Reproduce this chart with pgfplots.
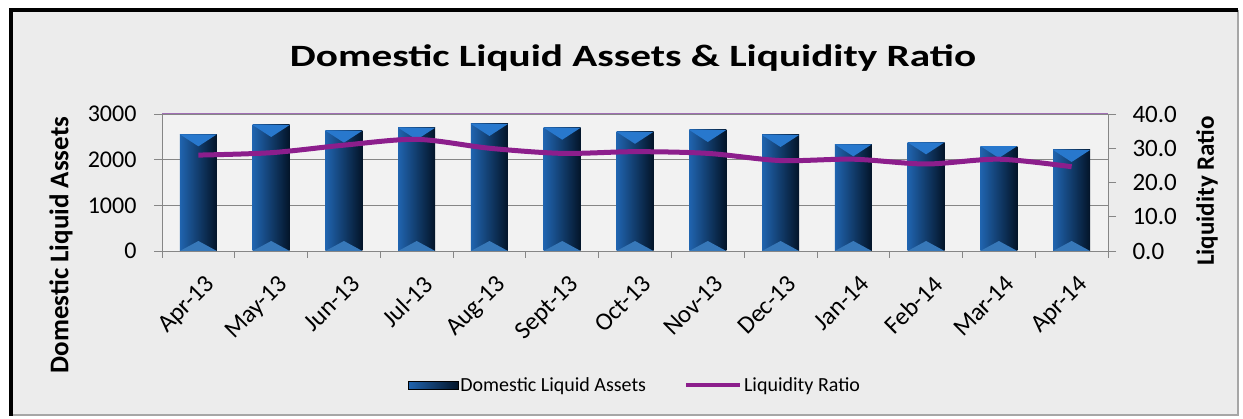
\documentclass[border=0pt]{standalone}
\usepackage{pgfplots}
\pgfplotsset{compat=1.18}
\usepackage{graphicx}
\usepackage{fontspec}
\setmainfont{Carlito}
\definecolor{panel}{RGB}{236,236,236}
\definecolor{plotbg}{RGB}{242,242,242}
\definecolor{gridc}{RGB}{134,134,134}
\definecolor{lineP}{RGB}{140,30,140}
\definecolor{topP}{RGB}{160,110,180}
\definecolor{barL}{RGB}{32,100,175}
\definecolor{barM}{RGB}{26,88,158}
\definecolor{barR}{RGB}{3,20,40}
\definecolor{barTop}{RGB}{40,120,205}
\definecolor{barBot}{RGB}{55,120,185}
\pgfdeclareplotmark{bevtop}{%
  \pgfpathmoveto{\pgfpoint{-18.5pt}{0pt}}%
  \pgfpathlineto{\pgfpoint{18.5pt}{0pt}}%
  \pgfpathlineto{\pgfpoint{0pt}{-12pt}}%
  \pgfpathclose\pgfusepathqfill}
\pgfdeclareplotmark{bevbot}{%
  \pgfpathmoveto{\pgfpoint{-18.5pt}{0pt}}%
  \pgfpathlineto{\pgfpoint{18.5pt}{0pt}}%
  \pgfpathlineto{\pgfpoint{0pt}{10pt}}%
  \pgfpathclose\pgfusepathqfill}
\pgfplotsset{mybar/.style={ybar, bar width=37pt, bar shift=0pt, draw=none, left color=barL, middle color=barM, right color=barR}}
\begin{document}
\begin{tikzpicture}
\path (0pt,0pt) rectangle (1243pt,419pt);
\fill[panel] (10pt,3pt) rectangle (1238pt,409pt);
\draw[gray!70, line width=2pt] (10pt,4pt) -- (1238pt,4pt) -- (1238pt,409pt);
\draw[black, line width=4pt] (11pt,3pt) -- (11pt,409pt) -- (1238pt,409pt);
\node[font=\bfseries\fontsize{31}{36}\selectfont] at (633pt,361pt) {\scalebox{1.33}[1]{Domestic Liquid Assets \& Liquidity Ratio}};
\node[font=\bfseries\fontsize{27}{32}\selectfont, rotate=90] at (61pt,174pt) {Domestic Liquid Assets};
\node[font=\bfseries\fontsize{25}{30}\selectfont, rotate=90] at (1207pt,228pt) {Liquidity Ratio};
\begin{axis}[
  at={(162pt,168pt)}, anchor=south west,
  width=946pt, height=137pt, scale only axis,
  xmin=-0.5, xmax=12.5, ymin=0, ymax=3000,
  axis background/.style={fill=plotbg},
  axis y line*=left, axis x line*=bottom,
  axis line style={gridc, line width=0.8pt},
  ytick={0,1000,2000,3000}, ymajorgrids,
  grid style={gridc, line width=0.8pt},
  xtick={0,...,12},
  xticklabels={Apr-13,May-13,Jun-13,Jul-13,Aug-13,Sept-13,Oct-13,Nov-13,Dec-13,Jan-14,Feb-14,Mar-14,Apr-14},
  major x tick style={draw=none},
  minor xtick={-0.5,0.5,1.5,2.5,3.5,4.5,5.5,6.5,7.5,8.5,9.5,10.5,11.5,12.5},
  tick align=outside, major tick length=8pt, minor tick length=7pt,
  tick style={gridc, line width=0.8pt},
  minor x tick style={gridc, line width=0.8pt},
  /pgf/number format/assume math mode=true,
  /pgf/number format/1000 sep={},
  yticklabel style={font=\fontsize{24}{28}\selectfont, xshift=-14pt},
  xticklabel style={font=\fontsize{25}{29}\selectfont, rotate=45, anchor=north east, yshift=-11pt, xshift=-3pt},
  clip=false,
]
\addplot[mybar] coordinates {(0,2555)};
\addplot[mybar] coordinates {(1,2759)};
\addplot[mybar] coordinates {(2,2635)};
\addplot[mybar] coordinates {(3,2700)};
\addplot[mybar] coordinates {(4,2781)};
\addplot[mybar] coordinates {(5,2700)};
\addplot[mybar] coordinates {(6,2610)};
\addplot[mybar] coordinates {(7,2650)};
\addplot[mybar] coordinates {(8,2540)};
\addplot[mybar] coordinates {(9,2336)};
\addplot[mybar] coordinates {(10,2380)};
\addplot[mybar] coordinates {(11,2299)};
\addplot[mybar] coordinates {(12,2212)};
\addplot[only marks, mark=bevtop, mark options={fill=barTop, draw=none}]
  coordinates {(0,2555) (1,2759) (2,2635) (3,2700) (4,2781) (5,2700) (6,2610) (7,2650) (8,2540) (9,2336) (10,2380) (11,2299) (12,2212)};
\addplot[only marks, mark=bevbot, mark options={fill=barBot, draw=none}]
  coordinates {(0,0) (1,0) (2,0) (3,0) (4,0) (5,0) (6,0) (7,0) (8,0) (9,0) (10,0) (11,0) (12,0)};
\draw[topP, line width=1pt] (rel axis cs:0,1) -- (rel axis cs:1,1);
\end{axis}
\begin{axis}[
  at={(162pt,168pt)}, anchor=south west,
  width=946pt, height=137pt, scale only axis,
  xmin=-0.5, xmax=12.5, ymin=0, ymax=40,
  axis y line*=right, axis x line=none,
  axis line style={gridc, line width=0.8pt},
  ytick={0,10,20,30,40},
  tick align=outside, major tick length=8pt,
  tick style={gridc, line width=0.8pt},
  /pgf/number format/assume math mode=true,
  yticklabel style={font=\fontsize{25}{29}\selectfont, xshift=13pt, /pgf/number format/.cd, fixed, fixed zerofill, precision=1},
  legend style={at={(0.5,-0.98)}, anchor=center, draw=none, fill=none, font=\fontsize{20}{24}\selectfont, inner sep=0pt},
  legend columns=2,
  legend cell align=left,
  /tikz/every even column/.append style={column sep=36pt},
  clip=false,
]
\addlegendimage{legend image code/.code={\fill[left color=barL, right color=barR] (0pt,-4pt) rectangle (50pt,4pt);}}
\addlegendentry{Domestic Liquid Assets}
\addplot[lineP, line width=5pt, smooth, tension=0.5, legend image code/.code={\draw[lineP, line width=4pt] (0pt,0pt) -- (54pt,0pt);}]
  coordinates {(0,28.0) (1,28.7) (2,30.9) (3,32.6) (4,30.0) (5,28.5) (6,29.0) (7,28.5) (8,26.4) (9,26.8) (10,25.4) (11,26.8) (12,24.6)};
\addlegendentry{Liquidity Ratio}
\end{axis}
\end{tikzpicture}
\end{document}
